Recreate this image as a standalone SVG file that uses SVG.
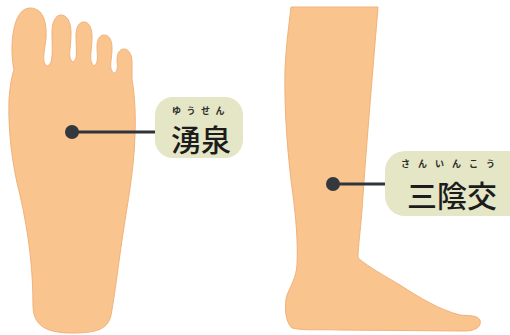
<svg xmlns="http://www.w3.org/2000/svg" width="510" height="335" viewBox="0 0 510 335">
  <style>
    .skin { fill: #fac48e; stroke: #f1b27a; stroke-width: 1; }
    .tag { fill: #e5e6c5; }
    .ruby { font-family: "Noto Sans CJK JP", "Noto Sans", sans-serif; font-size: 9px; font-weight: bold; fill: #2b2b2b; text-anchor: middle; }
    .name { font-family: "Noto Sans CJK JP", "Noto Sans", sans-serif; font-size: 30px; font-weight: 500; fill: #1c1c1c; text-anchor: middle; }
    .lead { stroke: #2f3438; stroke-width: 3; fill: none; }
    .dot { fill: #33383d; }
  </style>
  <rect width="510" height="335" fill="#ffffff"/>

  <!-- sole of the foot -->
  <g id="sole">
    <path class="skin" d="M 14,70 C 9,45 13,8 30,8 C 43,8 47,22 46,38 C 45,48 43,55 44,62 Q 47,70 51,62 C 53,55 52,45 52,33 C 52,21 56,15 61,15 C 67,15 71,22 71,33 C 71,45 69,52 70,58 Q 73,66 76,58 C 77,52 76,44 76,36 C 76,27 79,22 84,22 C 89,22 92,28 92,37 C 92,47 90,54 91,61 Q 94,70 97,62 C 98,57 97,52 97,47 C 97,39 100,35 104,35 C 109,35 112,40 112,48 C 112,57 110,63 111,69 Q 114,77 117,70 C 118,65 117,62 117,60 C 117,53 120,49 124,49 C 129,49 132,55 132,62 L 132,80 C 134,90 136,110 135,135 C 134,170 128,200 122,240 C 117,275 114,300 111,315 C 108,330 95,333 72,333 C 45,333 33,325 33,305 C 33,270 29,235 20,195 C 12,165 8,130 9,100 C 10,85 12,75 14,70 Z"/>
  </g>

  <!-- lower leg, side view -->
  <g id="leg">
    <path class="skin" d="M 291,7 L 378,7 C 372,80 366,150 362,210 C 360,235 358,248 358,258 C 370,268 385,276 400,285 C 420,298 440,310 460,315 C 470,316 477,315 480,320 C 482,327 475,331 465,331 L 340,330 C 320,329 305,331 292,328 C 285,322 284,305 287,295 C 291,285 296,278 297,265 C 298,240 296,220 293,195 C 288,160 284,110 285,70 C 286,45 289,25 291,7 Z"/>
  </g>

  <!-- leader lines with point markers -->
  <g id="connectors">
    <line class="lead" x1="72" y1="132" x2="157" y2="132"/>
    <circle class="dot" cx="72" cy="132" r="7"/>
    <line class="lead" x1="333" y1="184" x2="386" y2="184"/>
    <circle class="dot" cx="333" cy="184" r="7"/>
  </g>

  <!-- point labels -->
  <g id="yusen">
    <rect class="tag" x="155" y="97" width="88" height="61" rx="18"/>
    <text class="ruby" x="201" y="113.5" letter-spacing="5.5">ゆうせん</text>
    <text class="name" x="201" y="151">湧泉</text>
  </g>
  <g id="sanyinjiao">
    <rect class="tag" x="385" y="151" width="145" height="65" rx="20"/>
    <text class="ruby" x="452" y="167" letter-spacing="8">さんいんこう</text>
    <text class="name" x="452" y="207" font-size="32">三陰交</text>
  </g>
</svg>
